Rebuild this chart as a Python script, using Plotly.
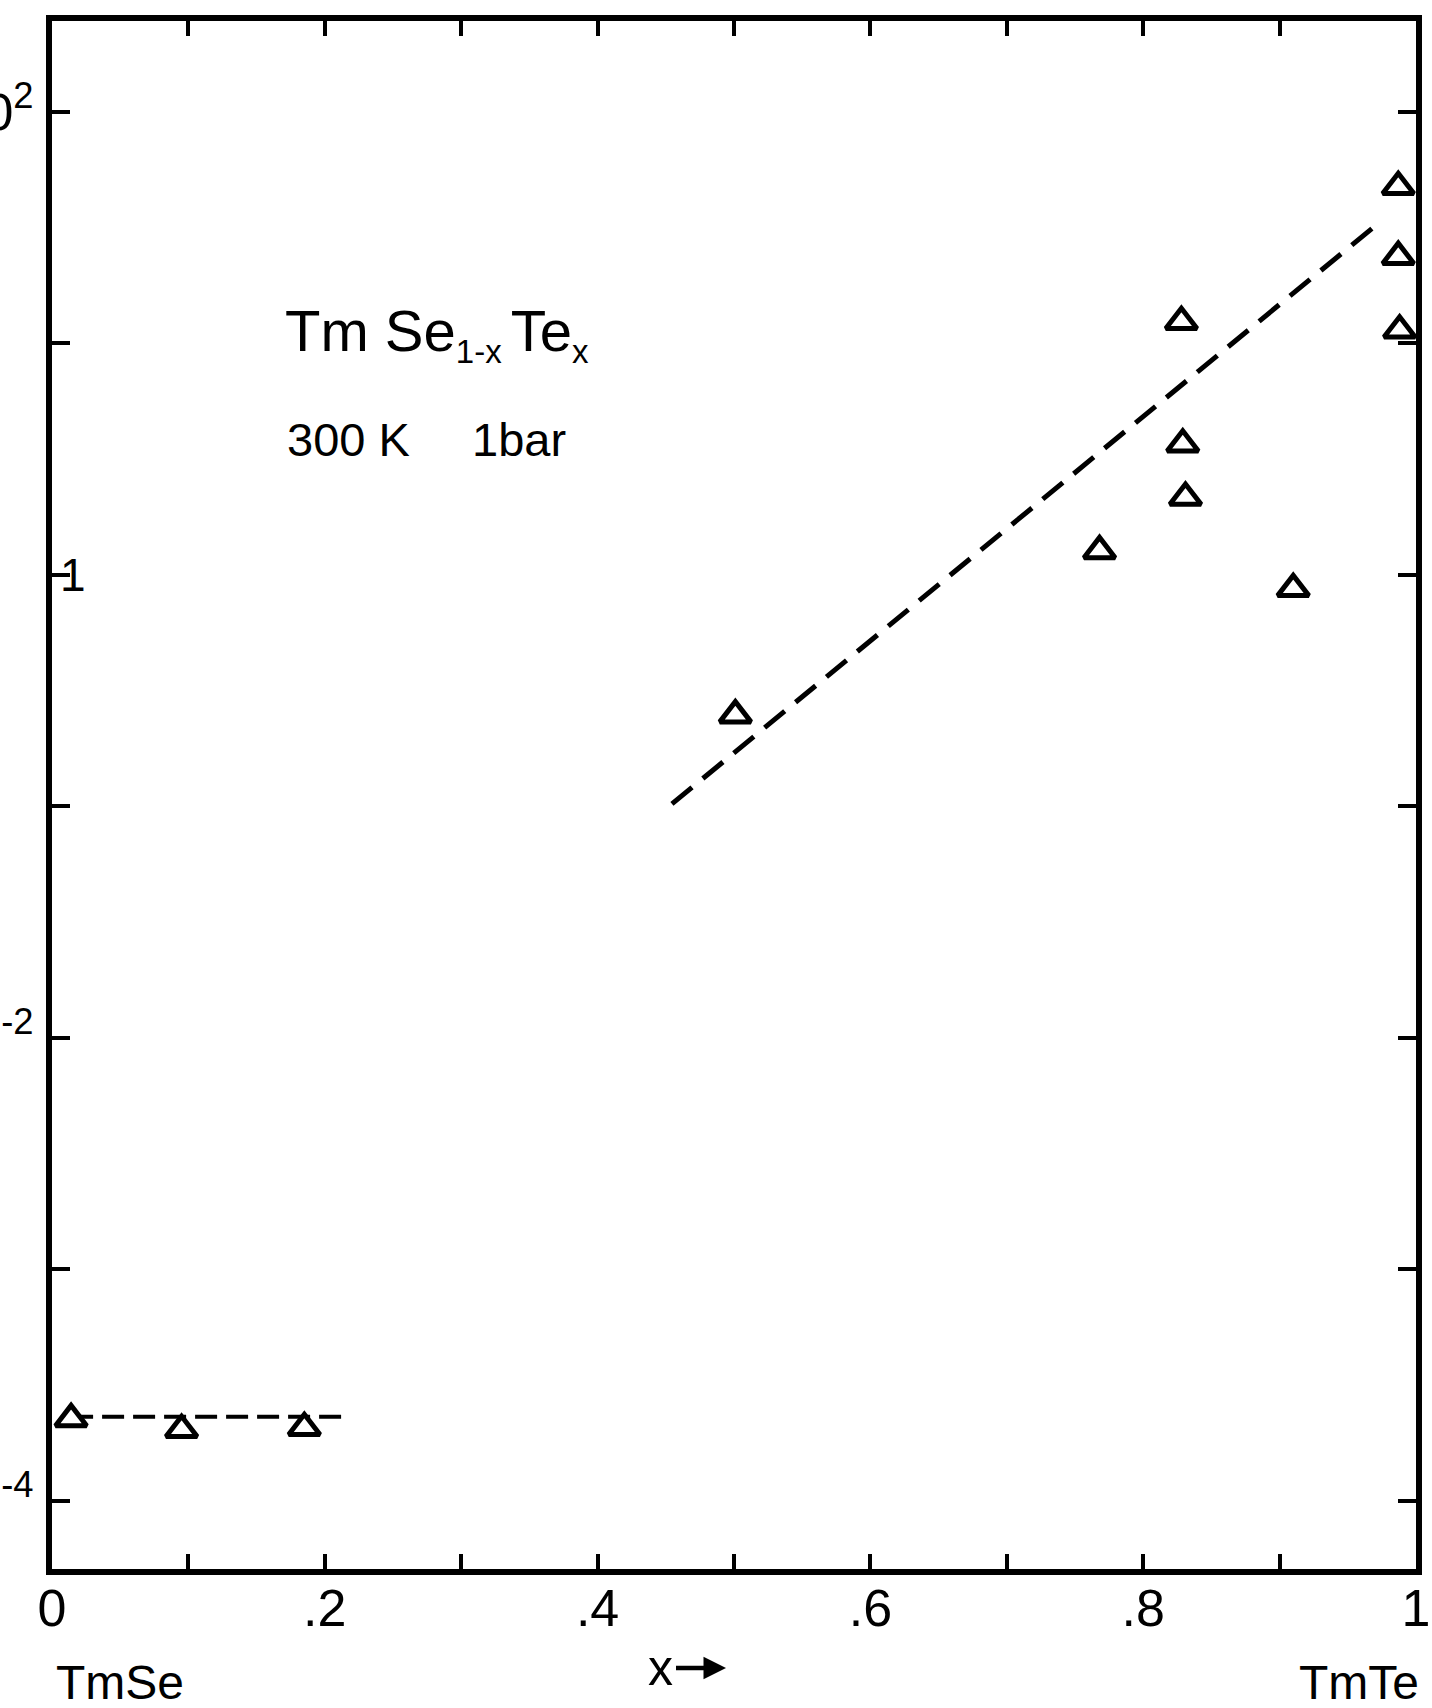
import plotly.graph_objects as go

# ---- data ----
x_points = [0.014, 0.095, 0.185, 0.501, 0.768, 0.828, 0.829, 0.831, 0.910, 0.987, 0.987, 0.988]
y_points = [2.26e-4, 2.03e-4, 2.07e-4, 0.248, 1.27, 12.4, 3.67, 2.16, 0.871, 47.5, 23.7, 11.4]

fit_x = [0.4545, 0.9736]
fit_y = [0.1026, 33.5]

tmse_line_x = [0.014, 0.213]
tmse_line_y = [2.31e-4, 2.31e-4]

x_tickvals = [0, 0.2, 0.4, 0.6, 0.8, 1.0]
x_ticktext = ["0", ".2", ".4", ".6", ".8", "1"]
x_minorvals = [0.1, 0.3, 0.5, 0.7, 0.9]
y_tickvals = [1e2, 1e-2, 1e-4]
y_ticktext = ["10<sup>2</sup>", "10<sup>-2</sup>", "10<sup>-4</sup>"]
y_minorvals = [1e1, 1e0, 1e-1, 1e-3]
y_one_label = "1"   # label of the 10^0 decade, drawn just inside the frame

FONT = "Liberation Sans"

fig = go.Figure()
fig.add_trace(go.Scatter(x=fit_x, y=fit_y, mode="lines",
                         line=dict(color="black", width=5, dash="26px,14px"),
                         showlegend=False, hoverinfo="skip"))
fig.add_trace(go.Scatter(x=tmse_line_x, y=tmse_line_y, mode="lines",
                         line=dict(color="black", width=4, dash="22px,9px"),
                         showlegend=False, hoverinfo="skip"))
fig.add_trace(go.Scatter(x=x_points, y=y_points, mode="markers",
                         marker=dict(symbol="triangle-up", size=27, color="white",
                                     line=dict(color="black", width=5)),
                         showlegend=False))

W, H = 1432, 1708
L, R, T, B = 52, 16, 21, 139

tick_common = dict(ticks="inside", tickwidth=3.5, tickcolor="black")

fig.update_layout(
    width=W, height=H,
    margin=dict(l=L, r=R, t=T, b=B, autoexpand=False),
    paper_bgcolor="white", plot_bgcolor="white",
    font=dict(family=FONT, color="black"),
    xaxis=dict(range=[0, 1], tickmode="array", tickvals=x_tickvals, ticktext=x_ticktext,
               ticklen=15, **tick_common,
               minor=dict(tickmode="array", tickvals=x_minorvals, ticklen=15, **tick_common),
               showline=True, linewidth=6, linecolor="black", mirror="ticks",
               showgrid=False, zeroline=False, automargin=False,
               tickfont=dict(size=52, family=FONT), ticklabelstandoff=-11),
    yaxis=dict(type="log", range=[-4.294, 2.393], tickmode="array",
               tickvals=y_tickvals, ticktext=y_ticktext,
               ticklen=18, **tick_common,
               minor=dict(tickmode="array", tickvals=y_minorvals, ticklen=18, **tick_common),
               showline=True, linewidth=6, linecolor="black", mirror="ticks",
               showgrid=False, zeroline=False, automargin=False,
               tickfont=dict(size=52, family=FONT), ticklabelstandoff=2),
)

pw, ph = W - L - R, H - T - B

def px(xpix):
    return (xpix - L) / pw

def py(ypix):
    return (H - B - ypix) / ph

annotations = [
    dict(text='Tm Se<sub><span style="font-size:33px">1-x </span></sub>Te<sub><span style="font-size:33px">x</span></sub>',
         x=px(283), y=py(334), xanchor="left", yanchor="middle", font=dict(size=58)),
    dict(text="300 K", x=px(285), y=py(440), xanchor="left", yanchor="middle", font=dict(size=47)),
    dict(text="1bar", x=px(470), y=py(440), xanchor="left", yanchor="middle", font=dict(size=47)),
    dict(text="TmSe", x=px(54), y=py(1683), xanchor="left", yanchor="middle", font=dict(size=48)),
    dict(text="TmTe", x=px(1421), y=py(1683), xanchor="right", yanchor="middle", font=dict(size=48)),
    dict(text=y_one_label, x=0, y=0, xref="x", yref="y", xanchor="left", yanchor="middle",
         xshift=6, font=dict(size=46)),
]
for a in annotations:
    a.setdefault("xref", "paper")
    a.setdefault("yref", "paper")
    a["showarrow"] = False
    a["font"]["family"] = FONT
    a["font"]["color"] = "black"

# "x" label with its arrow pointing right
annotations.append(dict(text="x", xref="paper", yref="paper", x=px(726), y=py(1668),
                        showarrow=True, ax=-66, ay=0, axref="pixel", ayref="pixel",
                        arrowhead=2, arrowsize=1, arrowwidth=4.5, arrowcolor="black",
                        standoff=0, startstandoff=2,
                        font=dict(size=50, family=FONT, color="black")))
fig.update_layout(annotations=annotations)

fig.write_html("out.html", config={"displayModeBar": False},
               post_script="document.body.style.margin='0';document.body.style.overflow='hidden';")
